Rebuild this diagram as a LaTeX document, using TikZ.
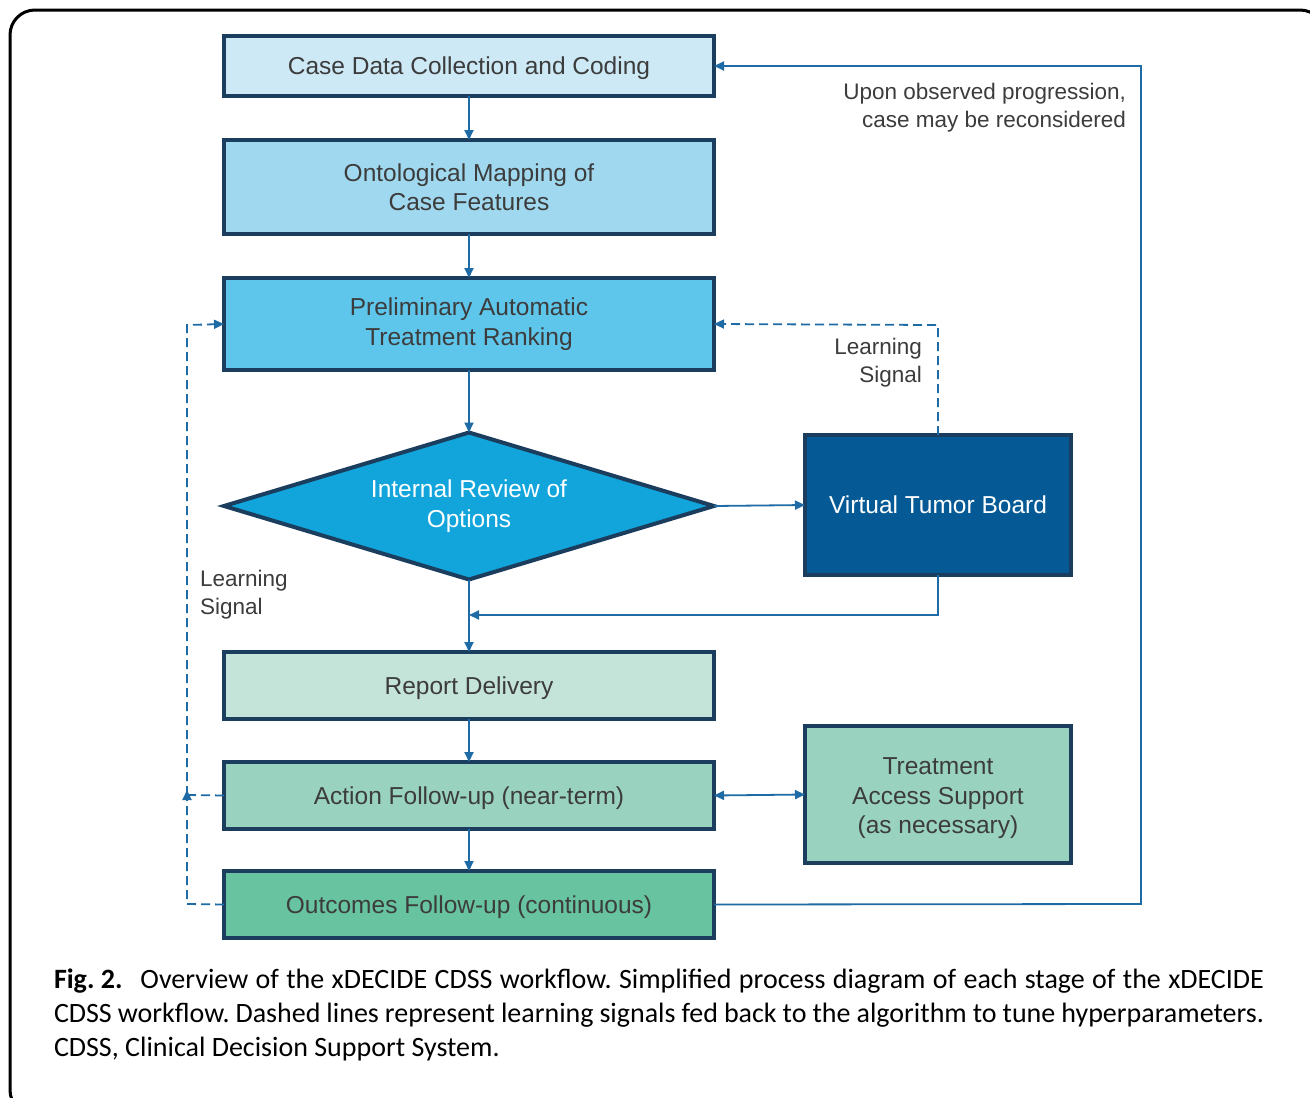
\documentclass[tikz,border=0pt]{standalone}
\usepackage{fontspec}
\setmainfont{Liberation Sans}
\newfontfamily\capfont{Carlito}
\usetikzlibrary{arrows.meta,shapes.geometric}
\definecolor{bordercol}{HTML}{1C3E5E}
\definecolor{linecol}{HTML}{1F6BA5}
\definecolor{txtcol}{HTML}{3C3C3C}
\definecolor{fillA}{HTML}{CDE9F5}
\definecolor{fillB}{HTML}{A0D9EF}
\definecolor{fillC}{HTML}{5FC6EB}
\definecolor{fillD}{HTML}{11A5DC}
\definecolor{fillV}{HTML}{055A96}
\definecolor{fillR}{HTML}{C5E4D9}
\definecolor{fillAct}{HTML}{99D3BF}
\definecolor{fillO}{HTML}{67C3A0}
\frenchspacing
\begin{document}
\begin{tikzpicture}[x=1pt,y=-1pt,
  every node/.style={inner sep=0pt, outer sep=0pt},
  boxtxt/.style={font=\fontsize{24.5}{29.5}\selectfont, text=txtcol, align=center},
  oneline/.style={text height=17.5pt, text depth=0pt},
  stage/.style={boxtxt, draw=bordercol, line width=4pt, minimum width=490pt, anchor=north west},
  side/.style={boxtxt, draw=bordercol, line width=4pt, minimum width=266pt, anchor=north west},
  conn/.style={draw=linecol, line width=1.8pt, -{Triangle[length=10pt,width=9pt]}},
  plain/.style={draw=linecol, line width=1.8pt},
  dashconn/.style={conn, dash pattern=on 9pt off 5pt},
  dashplain/.style={plain, dash pattern=on 9pt off 5pt},
  lbl/.style={font=\fontsize{22.5}{28}\selectfont, text=txtcol},
  captxt/.style={font=\capfont\fontsize{28}{34}\selectfont, text=black, anchor=base west}
]
\useasboundingbox (0,0) rectangle (1310,1098);
\fill[white] (0,0) rectangle (1310,1098);
\begin{scope}
\clip (0,0) rectangle (1310,1098);
\draw[line width=3pt, rounded corners=25pt] (10,10) rectangle (1325,1115);
\end{scope}

% stages
\node[stage, oneline, fill=fillA, minimum height=60pt] (b1) at (224,36) {Case Data Collection and Coding};
\node[stage, fill=fillB, minimum height=94pt] (b2) at (224,140) {Ontological Mapping of\\Case Features};
\node[stage, fill=fillC, minimum height=92pt] (b3) at (224,278) {Preliminary Automatic\\Treatment Ranking};
\node[boxtxt, diamond, aspect=3.33, draw=bordercol, line width=4pt, fill=fillD, text=white,
      minimum width=490pt, minimum height=147pt] (dia) at (469,506) {Internal Review of\\Options};
\node[side, oneline, fill=fillV, text=white, minimum height=140pt] (vtb) at (805,435) {Virtual Tumor Board};
\node[stage, oneline, fill=fillR, minimum height=67pt] (rep) at (224,652) {Report Delivery};
\node[stage, oneline, fill=fillAct, minimum height=67pt] (act) at (224,762) {Action Follow-up (near-term)};
\node[stage, oneline, fill=fillO, minimum height=67pt] (out) at (224,871) {Outcomes Follow-up (continuous)};
\node[side, fill=fillAct, minimum height=137pt] (tas) at (805,726) {\rule{0pt}{25pt}Treatment\\Access Support\\(as necessary)};

% coordinates for bends
\coordinate (vtbdown) at (938,615);
\coordinate (merge) at (469,615);
\coordinate (rtop) at (1141,66);
\coordinate (rbot) at (1141,904);
\coordinate (vtbup) at (938,325);
\coordinate (lbot) at (187,904);
\coordinate (lmid) at (187,795);
\coordinate (ltop) at (187,325);

% main flow
\draw[conn] (b1.south) -- (b2.north);
\draw[conn] (b2.south) -- (b3.north);
\draw[conn] (b3.south) -- (dia.north);
\draw[conn] (dia.east) -- (vtb.west);
\draw[conn] (dia.south) -- (rep.north);
\draw[conn] (vtb.south) -- (vtbdown) -- (merge);
\draw[conn] (rep.south) -- (act.north);
\draw[conn] (act.south) -- (out.north);
\draw[draw=linecol, line width=1.8pt, {Triangle[length=10pt,width=9pt]}-{Triangle[length=10pt,width=9pt]}] (act.east) -- (tas.west);
\draw[conn] (out.east) -- (rbot) -- (rtop) -- (b1.east);

% learning signals
\draw[dashconn] (vtb.north) -- (vtbup) -- (b3.east);
\draw[dashconn] (out.west) -- (lbot) -- ([yshift=5pt]lmid);
\draw[dashplain] (act.west) -- (lmid);
\draw[dashconn] (lmid) -- (ltop) -- (b3.west);

% labels
\node[lbl, align=right, anchor=east] (lab1) at (1126,108) {Upon observed progression,\\case may be reconsidered};
\node[lbl, align=right, anchor=east] (lab2) at (922,363) {Learning\\Signal};
\node[lbl, align=left, anchor=west] (lab3) at (200,595) {Learning\\Signal};

% caption
\node[captxt] (cap1) at (54,988) {\makebox[1210pt][s]{\mbox{\textbf{Fig. 2.}}\hspace{18pt}Overview of the xDECIDE CDSS workflow. Simplified process diagram of each stage of the xDECIDE}};
\node[captxt] (cap2) at (54,1022) {\makebox[1210pt][s]{CDSS workflow. Dashed lines represent learning signals fed back to the algorithm to tune hyperparameters.}};
\node[captxt] (cap3) at (54,1056) {CDSS, Clinical Decision Support System.};
\end{tikzpicture}
\end{document}
